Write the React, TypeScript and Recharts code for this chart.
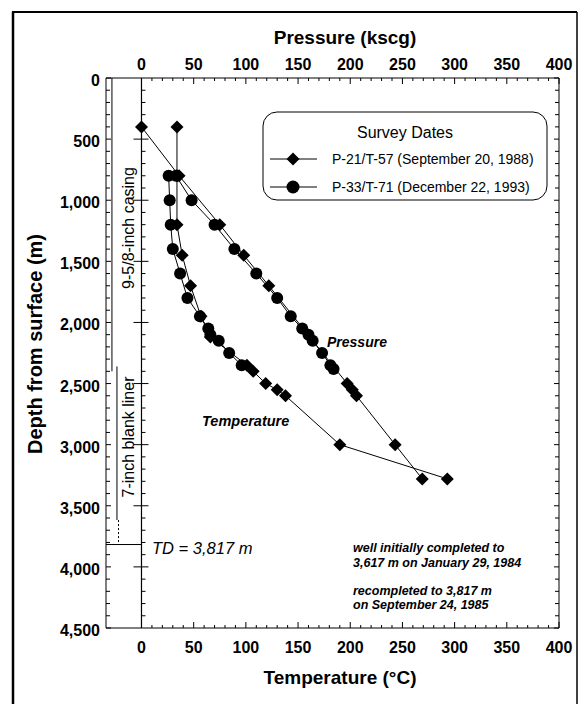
import React from 'react';
import { ScatterChart, Scatter, XAxis, YAxis, ReferenceLine } from 'recharts';

// ---- data (depth in m, value in kscg or °C) ----
const p21Depth = [400, 800, 1200, 1450, 1700, 2500, 2550, 2600, 3000, 3280];
const p21Pressure = [0, 36, 75, 98, 122, 197, 202, 206, 243, 269];

const t57Depth = [400, 800, 1200, 1450, 1700, 1950, 2120, 2350, 2400, 2500, 2550, 2600, 3000, 3280];
const t57Temp = [34, 34, 34, 39, 47, 57, 66, 101, 107, 119, 130, 138, 190, 293];

const p33Depth = [800, 1000, 1200, 1400, 1600, 1800, 1950, 2050, 2100, 2150, 2250, 2350, 2380];
const p33Pressure = [33, 48, 70, 89, 110, 130, 143, 154, 160, 164, 173, 181, 184];

const t71Depth = [800, 1000, 1200, 1400, 1600, 1800, 1950, 2050, 2100, 2150, 2250, 2350];
const t71Temp = [26, 27, 28, 30, 37, 44, 56, 64, 66, 74, 84, 96];

const valueLabels = [0, 50, 100, 150, 200, 250, 300, 350, 400];
const depthLabels = [0, 500, 1000, 1500, 2000, 2500, 3000, 3500, 4000, 4500];

const casingDepth = [0, 2400];
const linerDepth = [2360, 3617];
const recompleteDepth = [3617, 3817];
const tdDepth = 3817;

// tick positions (decorative)
const xTicks = Array.from({ length: 41 }, (_, i) => i * 10);
const yTicks = Array.from({ length: 46 }, (_, i) => i * 100);
const zeroTicks = Array.from({ length: 44 }, (_, i) => ({ v: 0, d: (i + 1) * 100 }));

const X_DOMAIN: [number, number] = [-34, 400];
const Y_DOMAIN: [number, number] = [0, 4500];

const zip = (d: number[], v: number[]) => d.map((dd, i) => ({ d: dd, v: v[i] }));

const p21 = zip(p21Depth, p21Pressure);
const t57 = zip(t57Depth, t57Temp);
const p33 = zip(p33Depth, p33Pressure);
const t71 = zip(t71Depth, t71Temp);

const FONT = '"Liberation Sans", Arial, Helvetica, sans-serif';

const Diamond = (props: any) => {
  const { cx, cy } = props;
  if (cx == null || cy == null) return null;
  const r = 6.5;
  return <path d={`M${cx},${cy - r}L${cx + r},${cy}L${cx},${cy + r}L${cx - r},${cy}Z`} fill="#000" />;
};
const Dot = (props: any) => {
  const { cx, cy } = props;
  if (cx == null || cy == null) return null;
  return <circle cx={cx} cy={cy} r={6} fill="#000" />;
};
const ZeroTick = (props: any) => {
  const { cx, cy, payload } = props;
  if (cx == null || cy == null) return null;
  const major = payload && payload.d % 500 === 0;
  return major ? (
    <line x1={cx - 8} x2={cx + 7} y1={cy} y2={cy} stroke="#000" strokeWidth={1} />
  ) : (
    <line x1={cx} x2={cx + 4} y1={cy} y2={cy} stroke="#000" strokeWidth={1} />
  );
};

const fmt = (n: number) => n.toLocaleString('en-US');

const BottomTick = (props: any) => {
  const { x, y, payload } = props;
  const v = payload.value;
  const major = valueLabels.includes(v);
  return (
    <g>
      <line x1={x} x2={x} y1={y} y2={y - (major ? 6 : 3)} stroke="#000" />
      {major && (
        <text x={x} y={y + 25} textAnchor="middle" fontFamily={FONT} fontWeight="bold" fontSize={16} fill="#000">
          {v}
        </text>
      )}
    </g>
  );
};
const TopTick = (props: any) => {
  const { x, y, payload } = props;
  const v = payload.value;
  const major = valueLabels.includes(v);
  return (
    <g>
      <line x1={x} x2={x} y1={y} y2={y + (major ? 6 : 3)} stroke="#000" />
      {major && (
        <text x={x} y={y - 8} textAnchor="middle" fontFamily={FONT} fontWeight="bold" fontSize={16} fill="#000">
          {v}
        </text>
      )}
    </g>
  );
};
const LeftTick = (props: any) => {
  const { x, y, payload } = props;
  const v = payload.value;
  const major = depthLabels.includes(v);
  return (
    <g>
      <line x1={x} x2={x + (major ? 5 : 4)} y1={y} y2={y} stroke="#000" />
      {major && (
        <text x={x - 6} y={y + 8} textAnchor="end" fontFamily={FONT} fontWeight="bold" fontSize={16} fill="#000">
          {fmt(v)}
        </text>
      )}
    </g>
  );
};
const RightTick = (props: any) => {
  const { x, y, payload } = props;
  const major = depthLabels.includes(payload.value);
  return <line x1={x} x2={x - (major ? 5 : 4)} y1={y} y2={y} stroke="#000" />;
};

const W = 571;
const H = 696;

export default function App() {
  const line = { stroke: '#000', strokeWidth: 1 };
  return (
    <div style={{ position: 'relative', width: W, height: H, background: '#fff' }}>
      <ScatterChart width={W} height={H} margin={{ top: 40, right: 10, bottom: 46, left: 38 }}>
        <XAxis
          xAxisId="b"
          type="number"
          dataKey="v"
          orientation="bottom"
          domain={X_DOMAIN}
          allowDataOverflow
          ticks={xTicks}
          interval={0}
          height={30}
          tickSize={0}
          tickMargin={0}
          tickLine={false}
          axisLine={{ stroke: '#000' }}
          tick={(p: any) => <BottomTick {...p} />}
        />
        <XAxis
          xAxisId="t"
          type="number"
          dataKey="v"
          orientation="top"
          domain={X_DOMAIN}
          allowDataOverflow
          ticks={xTicks}
          interval={0}
          height={30}
          tickSize={0}
          tickMargin={0}
          tickLine={false}
          axisLine={{ stroke: '#000' }}
          tick={(p: any) => <TopTick {...p} />}
        />
        <YAxis
          yAxisId="l"
          type="number"
          dataKey="d"
          orientation="left"
          domain={Y_DOMAIN}
          reversed
          allowDataOverflow
          ticks={yTicks}
          interval={0}
          width={60}
          tickSize={0}
          tickMargin={0}
          tickLine={false}
          axisLine={{ stroke: '#000' }}
          tick={(p: any) => <LeftTick {...p} />}
        />
        <YAxis
          yAxisId="r"
          type="number"
          dataKey="d"
          orientation="right"
          domain={Y_DOMAIN}
          reversed
          allowDataOverflow
          ticks={yTicks}
          interval={0}
          width={10}
          tickSize={0}
          tickMargin={0}
          tickLine={false}
          axisLine={{ stroke: '#000' }}
          tick={(p: any) => <RightTick {...p} />}
        />

        <ReferenceLine xAxisId="b" yAxisId="l" x={0} stroke="#000" strokeWidth={1.2} />
        <ReferenceLine
          xAxisId="b"
          yAxisId="l"
          segment={[{ x: -28.3, y: casingDepth[0] }, { x: -28.3, y: casingDepth[1] }]}
          stroke="#000"
        />
        <ReferenceLine
          xAxisId="b"
          yAxisId="l"
          segment={[{ x: -23.5, y: linerDepth[0] }, { x: -23.5, y: linerDepth[1] }]}
          stroke="#000"
        />
        <ReferenceLine
          xAxisId="b"
          yAxisId="l"
          segment={[{ x: -22, y: recompleteDepth[0] }, { x: -22, y: recompleteDepth[1] }]}
          stroke="#000"
          strokeDasharray="2 2"
        />
        <ReferenceLine
          xAxisId="b"
          yAxisId="l"
          segment={[{ x: -34, y: tdDepth }, { x: 0, y: tdDepth }]}
          stroke="#000"
        />

        <Scatter xAxisId="t" yAxisId="r" data={zeroTicks} shape={(p: any) => <ZeroTick {...p} />} isAnimationActive={false} />

        <Scatter xAxisId="b" yAxisId="l" data={p21} line={line} lineType="joint" shape={(p: any) => <Diamond {...p} />} isAnimationActive={false} />
        <Scatter xAxisId="b" yAxisId="l" data={t57} line={line} lineType="joint" shape={(p: any) => <Diamond {...p} />} isAnimationActive={false} />
        <Scatter xAxisId="b" yAxisId="l" data={p33} line={line} lineType="joint" shape={(p: any) => <Dot {...p} />} isAnimationActive={false} />
        <Scatter xAxisId="b" yAxisId="l" data={t71} line={line} lineType="joint" shape={(p: any) => <Dot {...p} />} isAnimationActive={false} />
      </ScatterChart>

      <svg
        width={W}
        height={H}
        style={{ position: 'absolute', left: 0, top: 0, pointerEvents: 'none' }}
        fontFamily={FONT}
      >
        {/* outer frame */}
        <line x1={5} y1={4} x2={5} y2={H} stroke="#000" strokeWidth={2.5} />
        <line x1={4} y1={4} x2={569} y2={4} stroke="#000" strokeWidth={2} />
        <line x1={569} y1={4} x2={569} y2={H} stroke="#000" strokeWidth={1.5} />

        <text x={337} y={36} textAnchor="middle" fontSize={19} fontWeight="bold">
          Pressure (kscg)
        </text>
        <text x={332} y={676} textAnchor="middle" fontSize={19} fontWeight="bold">
          Temperature (°C)
        </text>
        <text transform="translate(34,336) rotate(-90)" textAnchor="middle" fontSize={20} fontWeight="bold">
          Depth from surface (m)
        </text>

        <text transform="translate(126,220) rotate(-90)" textAnchor="middle" fontSize={16}>
          9-5/8-inch casing
        </text>
        <text transform="translate(126,429) rotate(-90)" textAnchor="middle" fontSize={16}>
          7-inch blank liner
        </text>

        <text x={319} y={339} fontSize={14} fontStyle="italic" fontWeight="bold">
          Pressure
        </text>
        <text x={194} y={418} fontSize={14.5} fontStyle="italic" fontWeight="bold">
          Temperature
        </text>
        <text x={144} y={546} fontSize={16.5} fontStyle="italic">
          TD = 3,817 m
        </text>
        <text fontSize={12.5} fontStyle="italic" fontWeight="bold">
          <tspan x={345} y={544}>well initially completed to</tspan>
          <tspan x={345} y={558.5}>3,617 m on January 29, 1984</tspan>
          <tspan x={345} y={586.5}>recompleted to 3,817 m</tspan>
          <tspan x={345} y={601}>on September 24, 1985</tspan>
        </text>

        {/* legend */}
        <rect x={255} y={104} width={284} height={88} rx={14} ry={14} fill="#fff" stroke="#000" strokeWidth={1} />
        <text x={397} y={130} textAnchor="middle" fontSize={16}>
          Survey Dates
        </text>
        <line x1={262} x2={309} y1={151} y2={151} stroke="#000" />
        <path d="M285,144.5L291.5,151L285,157.5L278.5,151Z" fill="#000" />
        <text x={324} y={156} fontSize={14}>
          P-21/T-57 (September 20, 1988)
        </text>
        <line x1={262} x2={309} y1={179} y2={179} stroke="#000" />
        <circle cx={285} cy={179} r={6.5} fill="#000" />
        <text x={324} y={184} fontSize={14}>
          P-33/T-71 (December 22, 1993)
        </text>
      </svg>
    </div>
  );
}
